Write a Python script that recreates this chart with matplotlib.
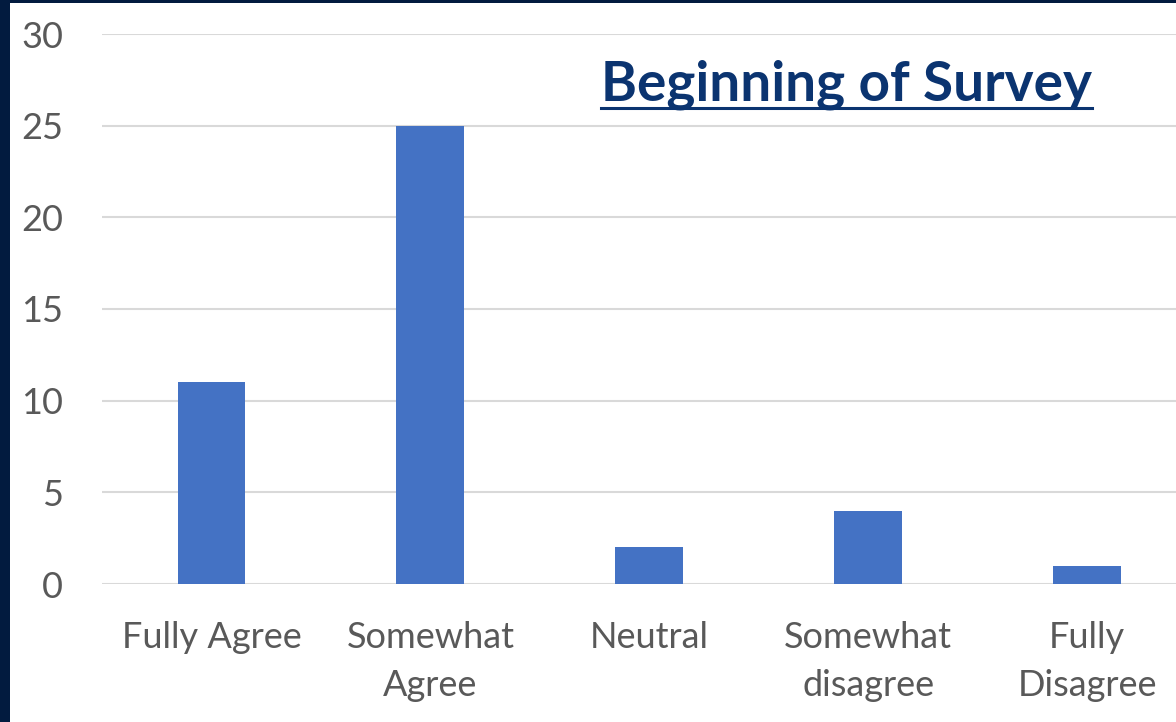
import matplotlib
matplotlib.use("Agg")
import matplotlib.pyplot as plt
from matplotlib.lines import Line2D

# survey responses
categories = ["Fully Agree", "Somewhat\nAgree", "Neutral", "Somewhat\ndisagree", "Fully\nDisagree"]
counts = [11, 25, 2, 4, 1]
yticks = [0, 5, 10, 15, 20, 25, 30]

W, H = 1176, 722
navy = "#021B3F"
bar_blue = "#4472C4"
grid_gray = "#D9D9D9"
label_gray = "#595959"
title_blue = "#0B3470"

fig = plt.figure(figsize=(W / 100, H / 100), dpi=100, facecolor=navy)

# white slide panel inside the dark frame
panel = fig.add_axes([10 / W, 0, 1 - 10 / W, 1 - 3 / H])
panel.set_facecolor("white")
panel.set_xticks([])
panel.set_yticks([])
for s in panel.spines.values():
    s.set_visible(False)

ax = fig.add_axes([102 / W, (H - 584) / H, (W - 102) / W, 550 / H])
ax.set_facecolor("none")
x = range(len(categories))
ax.bar(x, counts, width=0.31, color=bar_blue, zorder=3)

ax.set_ylim(0, 30)
ax.set_xlim(-0.5, 4.406)
ax.set_yticks(yticks)
ax.set_xticks(list(x))
ax.set_xticklabels(categories, linespacing=1.52)
ax.yaxis.grid(True, color=grid_gray, linewidth=1.5, zorder=0)
ax.tick_params(axis="both", length=0, labelsize=26, labelcolor=label_gray)
ax.tick_params(axis="y", pad=28)
ax.tick_params(axis="x", pad=27)
for lab in ax.get_xticklabels() + ax.get_yticklabels():
    lab.set_fontfamily("Lato")
for s in ax.spines.values():
    s.set_visible(False)

title = fig.text(601 / W, (H - 101) / H, "Beginning of Survey", fontsize=39.5,
                 fontweight="bold", family="Lato", color=title_blue,
                 ha="left", va="baseline")

# underline the title using its rendered extent
fig.canvas.draw()
bb = title.get_window_extent().transformed(fig.transFigure.inverted())
uy = (H - 108) / H
fig.add_artist(Line2D([bb.x0, bb.x1], [uy, uy], transform=fig.transFigure,
                      color=title_blue, linewidth=2.2))

fig.savefig("out.png", dpi=100, facecolor=navy)
